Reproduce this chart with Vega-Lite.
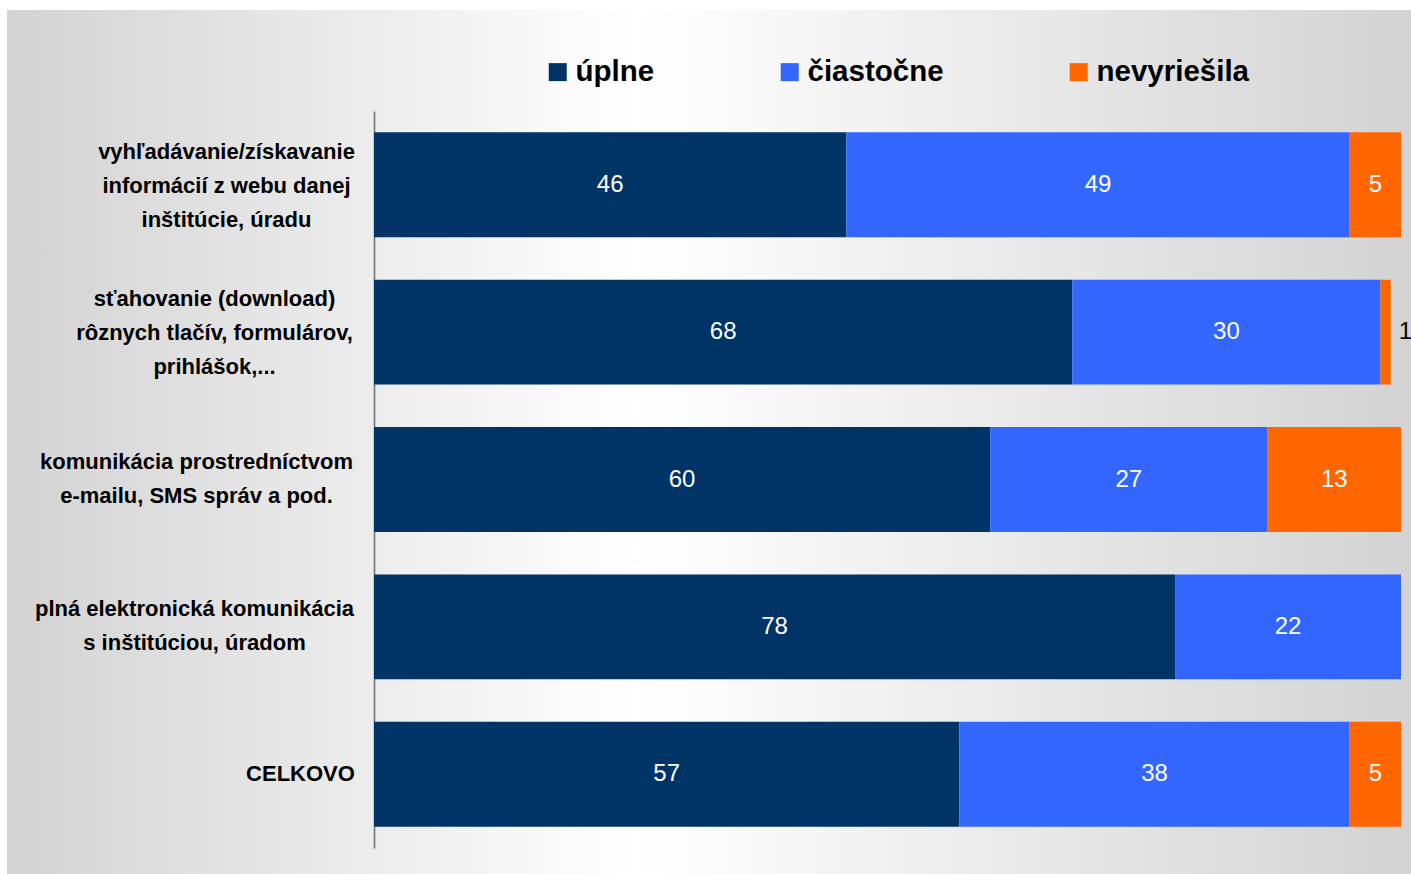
{
  "$schema": "https://vega.github.io/schema/vega-lite/v6.json",
  "autosize": {"type": "none"},
  "padding": {"left": 7, "top": 10, "right": 0, "bottom": 0},
  "width": 1404,
  "height": 864,
  "background": "#ffffff",
  "config": {
    "view": {
      "stroke": null,
      "fill": {
        "gradient": "linear", "x1": 0, "y1": 0, "x2": 1, "y2": 0,
        "stops": [
          {"offset": 0, "color": "#d3d3d3"},
          {"offset": 0.45, "color": "#ffffff"},
          {"offset": 1, "color": "#d3d3d3"}
        ]
      }
    }
  },
  "data": {
    "values": [
      {"task": "vyhľadávanie/získavanie|informácií z webu danej|inštitúcie, úradu", "series": "úplne", "order": 1, "value": 46},
      {"task": "vyhľadávanie/získavanie|informácií z webu danej|inštitúcie, úradu", "series": "čiastočne", "order": 2, "value": 49},
      {"task": "vyhľadávanie/získavanie|informácií z webu danej|inštitúcie, úradu", "series": "nevyriešila", "order": 3, "value": 5},
      {"task": "sťahovanie (download)|rôznych tlačív, formulárov,|prihlášok,...", "series": "úplne", "order": 1, "value": 68},
      {"task": "sťahovanie (download)|rôznych tlačív, formulárov,|prihlášok,...", "series": "čiastočne", "order": 2, "value": 30},
      {"task": "sťahovanie (download)|rôznych tlačív, formulárov,|prihlášok,...", "series": "nevyriešila", "order": 3, "value": 1},
      {"task": "komunikácia prostredníctvom|e-mailu, SMS správ a pod.", "series": "úplne", "order": 1, "value": 60},
      {"task": "komunikácia prostredníctvom|e-mailu, SMS správ a pod.", "series": "čiastočne", "order": 2, "value": 27},
      {"task": "komunikácia prostredníctvom|e-mailu, SMS správ a pod.", "series": "nevyriešila", "order": 3, "value": 13},
      {"task": "plná elektronická komunikácia|s inštitúciou, úradom", "series": "úplne", "order": 1, "value": 78},
      {"task": "plná elektronická komunikácia|s inštitúciou, úradom", "series": "čiastočne", "order": 2, "value": 22},
      {"task": "CELKOVO", "series": "úplne", "order": 1, "value": 57},
      {"task": "CELKOVO", "series": "čiastočne", "order": 2, "value": 38},
      {"task": "CELKOVO", "series": "nevyriešila", "order": 3, "value": 5}
    ]
  },
  "encoding": {
    "y": {
      "field": "task",
      "type": "nominal",
      "sort": null,
      "title": null,
      "scale": {"range": [101, 838], "paddingInner": 0.288, "paddingOuter": 0.144},
      "axis": {
        "orient": "left",
        "offset": -367,
        "domain": true,
        "domainColor": "#6e6e6e",
        "domainWidth": 1.5,
        "ticks": false,
        "labelExpr": "split(datum.label, '|')",
        "labelFont": "Liberation Sans",
        "labelFontWeight": "bold",
        "labelFontSize": 22,
        "labelLineHeight": 34,
        "labelColor": "#000000",
        "labelLimit": 400,
        "labelAlign": "center",
        "labelBaseline": "middle",
        "labelPadding": {
          "condition": [
            {"test": "indexof(datum.value, 'vyh') === 0", "value": 148},
            {"test": "indexof(datum.value, 'sťah') === 0", "value": 160},
            {"test": "indexof(datum.value, 'komun') === 0", "value": 178},
            {"test": "indexof(datum.value, 'plná') === 0", "value": 180}
          ],
          "value": 74
        },
        "labelOffset": {
          "condition": [
            {"test": "indexof(datum.value, 'vyh') === 0", "value": -33},
            {"test": "indexof(datum.value, 'sťah') === 0", "value": -33},
            {"test": "indexof(datum.value, 'komun') === 0", "value": -18},
            {"test": "indexof(datum.value, 'plná') === 0", "value": -18}
          ],
          "value": 0
        }
      }
    }
  },
  "layer": [
    {
      "mark": {"type": "bar"},
      "encoding": {
        "x": {
          "field": "value",
          "type": "quantitative",
          "stack": "zero",
          "scale": {"domain": [0, 100], "range": [367, 1394], "nice": false},
          "axis": null
        },
        "color": {
          "field": "series",
          "type": "nominal",
          "scale": {"domain": ["úplne", "čiastočne", "nevyriešila"], "range": ["#003366", "#3366ff", "#ff6600"]},
          "legend": {
            "title": null,
            "orient": "none",
            "legendX": 536,
            "legendY": 47,
            "direction": "horizontal",
            "columns": 3,
            "columnPadding": 120,
            "symbolType": "square",
            "symbolSize": 324,
            "symbolStrokeWidth": 0,
            "labelFont": "Liberation Sans",
            "labelFontSize": 29.5,
            "labelFontWeight": "bold",
            "labelColor": "#000000",
            "labelOffset": 3,
            "labelLimit": 400
          }
        },
        "order": {"field": "order", "type": "quantitative"}
      }
    },
    {
      "transform": [{"filter": "datum.value >= 3"}],
      "mark": {"type": "text", "color": "#ffffff", "font": "Liberation Sans", "fontSize": 24, "baseline": "middle", "align": "center"},
      "encoding": {
        "x": {"field": "value", "type": "quantitative", "stack": "zero", "bandPosition": 0.5},
        "detail": {"field": "series"},
        "order": {"field": "order", "type": "quantitative"},
        "text": {"field": "value", "type": "quantitative"}
      }
    },
    {
      "transform": [
        {"stack": "value", "groupby": ["task"], "sort": [{"field": "order"}], "as": ["v0", "v1"]},
        {"filter": "datum.value < 3"}
      ],
      "mark": {"type": "text", "color": "#000000", "font": "Liberation Sans", "fontSize": 24, "baseline": "middle", "align": "left", "dx": 8},
      "encoding": {
        "x": {"field": "v1", "type": "quantitative"},
        "text": {"field": "value", "type": "quantitative"}
      }
    }
  ]
}
